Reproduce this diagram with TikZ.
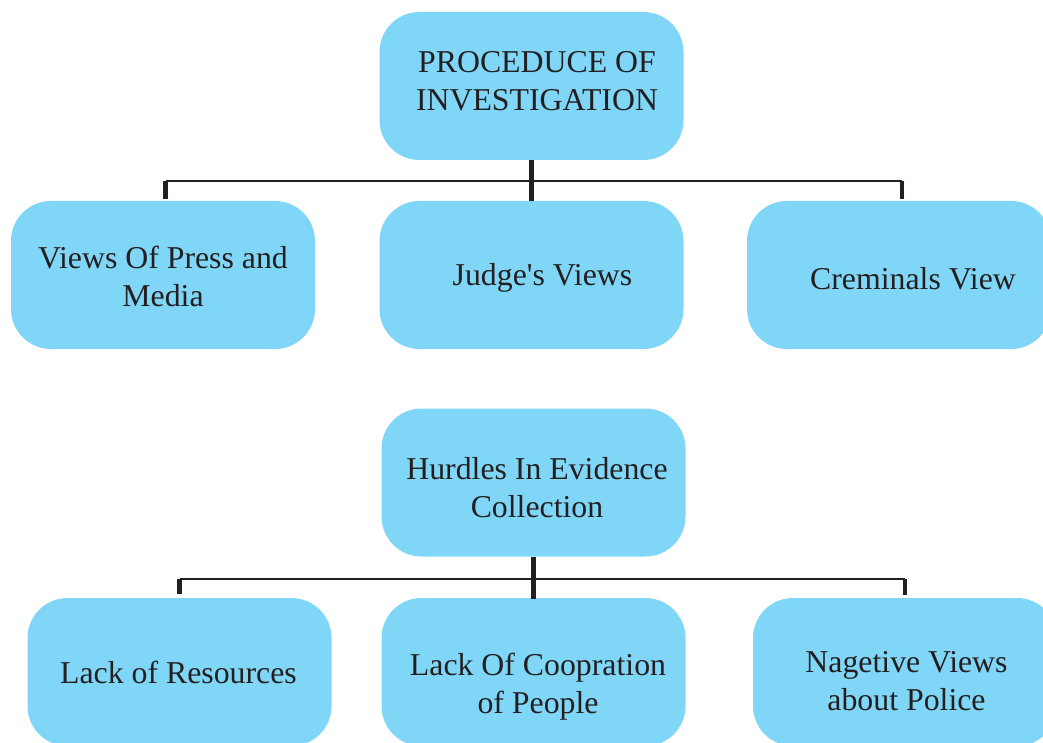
\documentclass[tikz,border=0pt]{standalone}
\usepackage{fontspec}
\setmainfont{Liberation Serif}
\definecolor{boxblue}{RGB}{127,214,247}
\definecolor{inkline}{RGB}{35,31,32}
\begin{document}
\begin{tikzpicture}[x=1pt,y=-1pt,
  box/.style={fill=boxblue,draw=none,rounded corners=40pt,minimum width=304pt,minimum height=148pt,inner sep=0pt},
  txt/.style={anchor=base,inner sep=0pt,text=inkline,font=\fontsize{31.8}{38}\selectfont},
  hline/.style={draw=inkline,line width=2.6pt},
  vline/.style={draw=inkline,line width=4.6pt}]
\useasboundingbox (0,0) rectangle (1043,743);
\clip (0,0) rectangle (1043,743);
% boxes
\node[box] (top) at (531.5,86) {};
\node[box] (v1) at (163,275) {};
\node[box] (v2) at (531.5,275) {};
\node[box] (v3) at (899,275) {};
\node[box] (hur) at (533.5,482.5) {};
\node[box] (w1) at (179.5,672) {};
\node[box] (w2) at (533.5,672) {};
\node[box] (w3) at (905,672) {};
% texts
\node[txt] (ttop) at (537,73) {\begin{tabular}[t]{@{}c@{}}PROCEDUCE OF\\INVESTIGATION\end{tabular}};
\node[txt] (tv1) at (163,268) {\begin{tabular}[t]{@{}c@{}}Views Of Press and\\Media\end{tabular}};
\node[txt] (tv2) at (542.5,285) {Judge\textquotesingle s Views};
\node[txt] (tv3) at (913,289) {Creminals View};
\node[txt] (thur) at (537,479) {\begin{tabular}[t]{@{}c@{}}Hurdles In Evidence\\Collection\end{tabular}};
\node[txt] (tw1) at (178.5,683) {Lack of Resources};
\node[txt] (tw2) at (538,675) {\begin{tabular}[t]{@{}c@{}}Lack Of Coopration\\of People\end{tabular}};
\node[txt] (tw3) at (906.5,672) {\begin{tabular}[t]{@{}c@{}}Nagetive Views\\about Police\end{tabular}};
% connectors, group 1
\coordinate (j1) at (532,181);
\draw[hline] ([xshift=2.5pt]v1.north |- j1) -- ([xshift=3pt]v3.north |- j1);
\draw[vline] (top.south) -- (top.south |- j1) -- (v2.north);
\draw[vline] ([xshift=2.5pt]v1.north |- j1) -- ([xshift=2.5pt,yshift=2pt]v1.north);
\draw[vline] ([xshift=3pt]v3.north |- j1) -- ([xshift=3pt,yshift=2pt]v3.north);
% connectors, group 2
\coordinate (j2) at (533.5,579);
\draw[hline] (w1.north |- j2) -- (w3.north |- j2);
\draw[vline] (hur.south) -- (hur.south |- j2) -- ([yshift=-1pt]w2.north);
\draw[vline] (w1.north |- j2) -- ([yshift=4pt]w1.north);
\draw[vline] (w3.north |- j2) -- ([yshift=3pt]w3.north);
\end{tikzpicture}
\end{document}
